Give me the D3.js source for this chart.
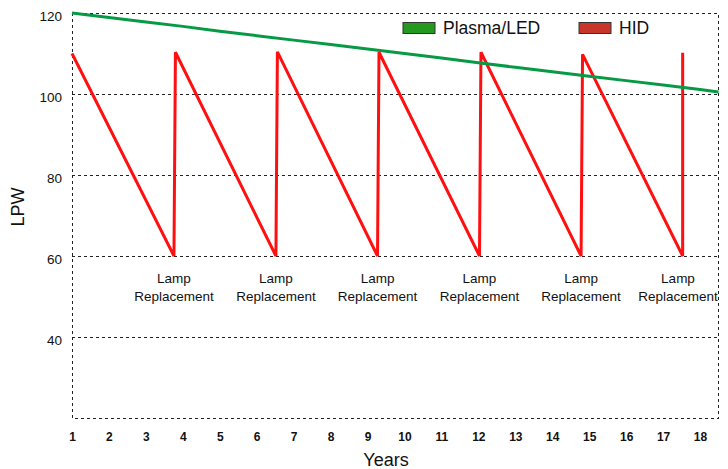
<!DOCTYPE html>
<html>
<head>
<meta charset="utf-8">
<script src="https://cdn.jsdelivr.net/npm/d3@7"></script>
<style>
  html, body { margin: 0; padding: 0; background: #fff; }
  svg { display: block; font-family: "Liberation Sans", Arial, sans-serif; }
</style>
</head>
<body>
<svg id="chart" width="728" height="469"></svg>
<script>
// Luminous efficacy (lumens per watt) over the service life, by technology
const yearTicks = [1, 2, 3, 4, 5, 6, 7, 8, 9, 10, 11, 12, 13, 14, 15, 16, 17, 18];
const lpwTicks = [40, 60, 80, 100, 120];

const plasmaYears  = [1, 2, 3, 4, 5, 6, 7, 8, 9, 10, 11, 12, 13, 14, 15, 16, 17, 18, 18.5];
const plasmaValues = [120, 118.9, 117.8, 116.7, 115.5, 114.4, 113.3, 112.2, 111.1, 110.0,
                      108.9, 107.7, 106.6, 105.5, 104.4, 103.3, 102.2, 101.1, 100.5];

const hidYears  = [1, 3.76, 3.80, 6.52, 6.56, 9.27, 9.31, 12.03, 12.07, 14.78, 14.82, 17.53, 17.53];
const hidValues = [110, 60, 110.3, 60, 110.4, 60, 110.3, 60, 110.3, 60, 109.8, 60, 110.2];

const replacementYears = [3.76, 6.52, 9.27, 12.03, 14.78, 17.53];
const replacementLabel = ["Lamp", "Replacement"];

const seriesNames = ["Plasma/LED", "HID"];

const svg = d3.select("#chart");

const x = d3.scaleLinear().domain([1, 18.5]).range([72, 718.5]);
const y = d3.scaleLinear().domain([20, 120]).range([418, 13]);

const dash = "3,3";

// Horizontal dashed grid lines
svg.append("g")
  .selectAll("line")
  .data([40, 60, 80, 100])
  .join("line")
  .attr("x1", x(1)).attr("x2", x(18.5))
  .attr("y1", d => y(d)).attr("y2", d => y(d))
  .attr("stroke", "#222").attr("stroke-width", 1)
  .attr("stroke-dasharray", dash)
  .attr("shape-rendering", "crispEdges");

// Dashed frame around the plot area
svg.append("rect")
  .attr("x", x(1)).attr("y", y(120))
  .attr("width", x(18.5) - x(1)).attr("height", y(20) - y(120))
  .attr("fill", "none").attr("stroke", "#222").attr("stroke-width", 1)
  .attr("stroke-dasharray", dash)
  .attr("shape-rendering", "crispEdges");

// Y axis tick labels
const yAxis = d3.axisLeft(y).tickValues(lpwTicks).tickSize(0).tickPadding(10);
const gy = svg.append("g").attr("transform", `translate(${x(1)},0)`).call(yAxis);
gy.select(".domain").remove();
gy.selectAll("text")
  .attr("font-family", "Liberation Sans, Arial, sans-serif")
  .attr("font-size", 13.5).attr("fill", "#111")
  .attr("dy", "0.75em").attr("y", -2.5);

// X axis tick labels
const xAxis = d3.axisBottom(x).tickValues(yearTicks).tickSize(0).tickPadding(14);
const gx = svg.append("g").attr("transform", `translate(0,${y(20)})`).call(xAxis);
gx.select(".domain").remove();
gx.selectAll("text")
  .attr("font-family", "Liberation Sans, Arial, sans-serif")
  .attr("font-size", 12).attr("font-weight", "bold").attr("fill", "#111");

// Axis titles
svg.append("text")
  .attr("x", 386).attr("y", 466)
  .attr("text-anchor", "middle")
  .attr("font-size", 18).attr("fill", "#111")
  .text("Years");

svg.append("text")
  .attr("transform", "translate(24,207) rotate(-90)")
  .attr("text-anchor", "middle")
  .attr("font-size", 18).attr("fill", "#111")
  .text("LPW");

// Series lines
const line = d3.line().x(d => x(d[0])).y(d => y(d[1]));

svg.append("path")
  .datum(hidYears.map((t, i) => [t, hidValues[i]]))
  .attr("d", line)
  .attr("fill", "none").attr("stroke", "#ff1010").attr("stroke-width", 3)
  .attr("stroke-linejoin", "miter");

svg.append("path")
  .datum(plasmaYears.map((t, i) => [t, plasmaValues[i]]))
  .attr("d", line)
  .attr("fill", "none").attr("stroke", "#069a45").attr("stroke-width", 3);

// Replacement annotations under each minimum
const ann = svg.append("g")
  .selectAll("text")
  .data(replacementYears)
  .join("text")
  .attr("text-anchor", "middle")
  .attr("font-size", 13.5).attr("fill", "#111")
  .attr("transform", d => `translate(${Math.min(x(d), 678)},0)`);
ann.append("tspan").attr("x", 0).attr("y", 283).text(replacementLabel[0]);
ann.append("tspan").attr("x", 0).attr("y", 300.5).text(replacementLabel[1]);

// Legend
const legendColors = ["#23991f", "#c8352a"];
const legendX = [403, 579];
const lg = svg.append("g")
  .selectAll("g")
  .data(seriesNames)
  .join("g")
  .attr("transform", (d, i) => `translate(${legendX[i]},22.5)`);
lg.append("rect")
  .attr("width", 32).attr("height", 11)
  .attr("fill", (d, i) => legendColors[i])
  .attr("stroke", "#333").attr("stroke-width", 1);
lg.append("text")
  .attr("x", 40).attr("y", 11)
  .attr("font-size", 17.5).attr("fill", "#111")
  .text(d => d);
</script>
</body>
</html>
